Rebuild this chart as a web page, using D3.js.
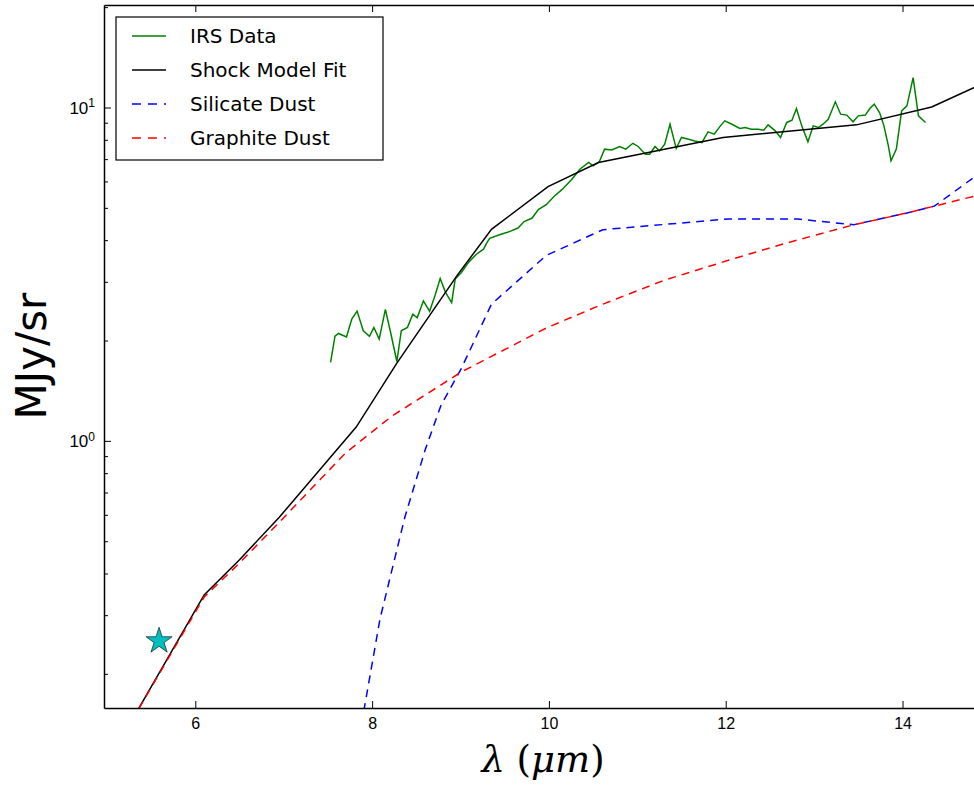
<!DOCTYPE html>
<html>
<head>
<meta charset="utf-8">
<script src="https://cdn.jsdelivr.net/npm/d3@7"></script>
<style>
  body { margin: 0; background: #fff; }
  svg { display: block; font-family: "DejaVu Sans", sans-serif; }
</style>
</head>
<body>
<svg id="chart" width="974" height="787"></svg>
<script>
// IRS spectrum (wavelength in um, flux in MJy/sr)
const irsWave = [7.53, 7.58, 7.62, 7.71, 7.77, 7.83, 7.90, 7.97, 8.02, 8.08, 8.15, 8.21, 8.28, 8.33, 8.40,
  8.46, 8.51, 8.58, 8.65, 8.71, 8.77, 8.83, 8.90, 8.94, 9.01, 9.09, 9.18, 9.26, 9.30, 9.33, 9.44,
  9.56, 9.65, 9.72, 9.81, 9.88, 9.97, 10.06, 10.15, 10.26, 10.35, 10.45, 10.50, 10.57, 10.63, 10.71,
  10.80, 10.87, 10.95, 11.01, 11.09, 11.14, 11.20, 11.25, 11.31, 11.37, 11.44, 11.50, 11.58, 11.65,
  11.73, 11.80, 11.87, 11.94, 11.99, 12.07, 12.16, 12.22, 12.29, 12.37, 12.43, 12.48, 12.56, 12.62,
  12.69, 12.75, 12.80, 12.86, 12.93, 12.99, 13.05, 13.10, 13.16, 13.24, 13.30, 13.37, 13.44, 13.50,
  13.58, 13.63, 13.68, 13.74, 13.79, 13.84, 13.87, 13.93, 13.99, 14.05, 14.12, 14.18, 14.26];
const irsFlux = [1.72, 2.06, 2.10, 2.05, 2.32, 2.45, 2.14, 2.06, 2.19, 2.02, 2.48, 2.11, 1.73, 2.14, 2.19,
  2.40, 2.34, 2.63, 2.45, 2.72, 3.07, 2.79, 2.60, 3.06, 3.20, 3.43, 3.63, 3.76, 3.94, 4.05, 4.15,
  4.25, 4.35, 4.55, 4.66, 4.94, 5.11, 5.42, 5.68, 6.09, 6.53, 6.84, 6.68, 6.87, 7.50, 7.46,
  7.64, 7.50, 7.81, 7.64, 7.24, 7.24, 7.64, 7.41, 7.76, 8.91, 7.54, 8.13, 8.03, 7.94,
  7.85, 8.45, 8.32, 8.81, 9.12, 8.91, 8.65, 8.71, 8.61, 8.61, 8.55, 8.87, 8.51, 8.13,
  9.02, 9.16, 9.93, 8.81, 7.89, 8.81, 8.71, 8.91, 9.22, 10.40, 9.55, 9.49, 9.06, 9.44,
  9.49, 9.93, 10.23, 9.66, 8.81, 7.67, 6.92, 7.50, 9.77, 10.11, 12.3, 9.44, 9.02];

// shock model fit
const shockWave = [5.20, 6.10, 6.50, 6.95, 7.82, 8.28, 8.96, 9.35, 9.99, 10.56, 11.97, 13.48, 14.33, 15.0];
const shockFlux = [0.133, 0.345, 0.44, 0.59, 1.10, 1.71, 3.13, 4.31, 5.79, 6.84, 8.13, 8.87, 10.04, 12.1];

// silicate dust component
const silWave = [7.85, 7.91, 8.09, 8.37, 8.60, 8.78, 9.01, 9.35, 9.97, 10.61, 12.03, 12.81, 13.45, 14.04, 14.36, 14.81, 15.0];
const silFlux = [0.128, 0.157, 0.293, 0.59, 0.94, 1.28, 1.65, 2.57, 3.60, 4.30, 4.63, 4.63, 4.45, 4.82, 5.06, 6.18, 6.7];

// graphite dust component
const graWave = [5.20, 6.10, 6.50, 6.95, 7.70, 8.23, 9.01, 9.97, 10.56, 11.30, 12.03, 12.67, 13.45, 14.04, 14.36, 14.81, 15.0];
const graFlux = [0.133, 0.34, 0.43, 0.57, 0.92, 1.19, 1.61, 2.18, 2.54, 3.03, 3.48, 3.91, 4.45, 4.82, 5.06, 5.42, 5.6];

// photometry point (star)
const starWave = [5.59];
const starFlux = [0.251];

const xTicks = [6, 8, 10, 12, 14];
const yMajorExp = [0, 1];
const legendLabels = ["IRS Data", "Shock Model Fit", "Silicate Dust", "Graphite Dust"];

const mLeft = 104, mTop = 5, mBottom = 708;
const pxPerUnit = 88.4;

const svg = d3.select("#chart");

const x = d3.scaleLinear()
  .domain([4.967, 15.5])
  .range([mLeft, mLeft + (15.5 - 4.967) * pxPerUnit]);

const y = d3.scaleLog()
  .domain([0.158, 20.3])
  .range([mBottom, mTop]);

const plotW = x(15.5) - mLeft;

svg.append("defs").append("clipPath").attr("id", "clip")
  .append("rect")
  .attr("x", mLeft).attr("y", mTop)
  .attr("width", plotW).attr("height", mBottom - mTop);

const line = d3.line()
  .x(d => x(d[0]))
  .y(d => y(d[1]));

const g = svg.append("g").attr("clip-path", "url(#clip)");

const series = [
  { w: irsWave, f: irsFlux, color: "#008000", dash: null },
  { w: shockWave, f: shockFlux, color: "#000000", dash: null },
  { w: silWave, f: silFlux, color: "#0000ff", dash: "8,6" },
  { w: graWave, f: graFlux, color: "#ff0000", dash: "8,6" }
];

series.forEach(s => {
  g.append("path")
    .datum(s.w.map((w, i) => [w, s.f[i]]))
    .attr("d", line)
    .attr("fill", "none")
    .attr("stroke", s.color)
    .attr("stroke-width", 1.5)
    .attr("stroke-dasharray", s.dash);
});

g.selectAll(".star")
  .data(starWave.map((w, i) => [w, starFlux[i]]))
  .enter()
  .append("path")
  .attr("transform", d => "translate(" + x(d[0]) + "," + y(d[1]) + ")")
  .attr("d", d3.symbol().type(d3.symbolStar).size(214))
  .attr("fill", "#00bfbf")
  .attr("stroke", "#000")
  .attr("stroke-width", 0.6);

// minor y ticks
let minors = [];
for (let e = -1; e <= 1; e++) {
  for (let k = 2; k <= 9; k++) {
    const v = k * Math.pow(10, e);
    if (v > 0.158 && v < 20.3) minors.push(v);
  }
}

svg.append("g")
  .attr("transform", "translate(" + mLeft + ",0)")
  .call(d3.axisLeft(y).tickValues(minors).tickSize(-4).tickSizeOuter(0).tickFormat(""))
  .call(a => a.select(".domain").remove());

const yAxis = svg.append("g")
  .attr("transform", "translate(" + mLeft + ",0)")
  .call(d3.axisLeft(y).tickValues(yMajorExp.map(e => Math.pow(10, e))).tickSize(-7).tickSizeOuter(0).tickPadding(9).tickFormat(""));
yAxis.select(".domain").attr("stroke-width", 1.5);

yAxis.selectAll(".tick").each(function(d, i) {
  const t = d3.select(this).append("text")
    .attr("x", -9)
    .attr("dy", "0.35em")
    .attr("text-anchor", "end")
    .attr("fill", "#000")
    .style("font-size", "17px");
  t.append("tspan").text("10");
  t.append("tspan").attr("dy", "-0.55em").style("font-size", "12px").text(yMajorExp[i]);
});

const xAxis = svg.append("g")
  .attr("transform", "translate(0," + mBottom + ")")
  .call(d3.axisBottom(x).tickValues(xTicks).tickSize(-7).tickSizeOuter(0).tickPadding(10));
xAxis.select(".domain").attr("stroke-width", 1.5);
xAxis.selectAll("text").style("font-size", "16px").attr("fill", "#000");

const topAxis = svg.append("g")
  .attr("transform", "translate(0," + mTop + ")")
  .call(d3.axisTop(x).tickValues(xTicks).tickSize(-7).tickSizeOuter(0).tickFormat(""));
topAxis.select(".domain").attr("stroke-width", 1.5);

// axis labels
svg.append("text")
  .attr("transform", "translate(46,356) rotate(-90)")
  .attr("text-anchor", "middle")
  .style("font-size", "42px")
  .text("MJy/sr");

const xl = svg.append("text")
  .attr("x", 543)
  .attr("y", 772)
  .attr("text-anchor", "middle")
  .style("font-family", "'DejaVu Serif', serif")
  .style("font-size", "37px");
xl.append("tspan").style("font-style", "italic").text("λ");
xl.append("tspan").text(" (");
xl.append("tspan").style("font-style", "italic").text("μm");
xl.append("tspan").text(")");

// legend
const legend = svg.append("g");
legend.append("rect")
  .attr("x", 116).attr("y", 17)
  .attr("width", 267).attr("height", 143)
  .attr("fill", "#fff")
  .attr("stroke", "#000")
  .attr("stroke-width", 1.2);

legendLabels.forEach((lab, i) => {
  const s = series[i];
  const cy = 36 + i * 34;
  legend.append("line")
    .attr("x1", 132).attr("x2", 166)
    .attr("y1", cy).attr("y2", cy)
    .attr("stroke", s.color)
    .attr("stroke-width", 1.5)
    .attr("stroke-dasharray", s.dash ? "9,7" : null);
  legend.append("text")
    .attr("x", 190).attr("y", cy)
    .attr("dy", "0.35em")
    .style("font-size", "20px")
    .text(lab);
});
</script>
</body>
</html>
